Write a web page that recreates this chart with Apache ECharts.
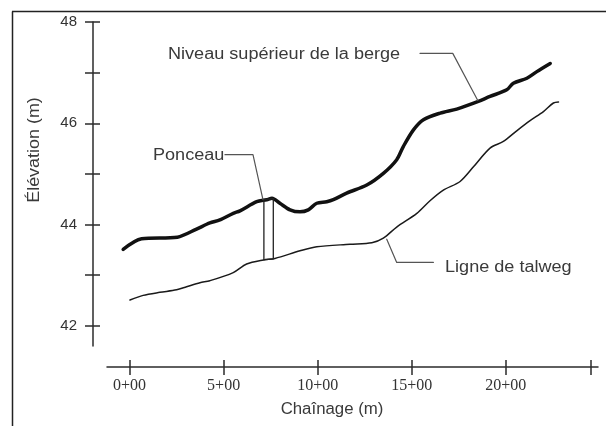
<!DOCTYPE html>
<html>
<head>
<meta charset="utf-8">
<script src="https://cdn.jsdelivr.net/npm/echarts@6/dist/echarts.min.js"></script>
<style>
  html, body { margin: 0; padding: 0; background: #fff; }
  #chart { width: 606px; height: 426px; }
</style>
</head>
<body>
<div id="chart"></div>
<script>
// chainage (x 100 m) and elevation (m)
const bergeX = [-0.34, 0.64, 2.54, 3.56, 4.27, 4.80, 5.51, 5.87, 6.76, 7.29, 7.57, 7.99, 8.53, 9.06, 9.50, 9.95, 10.48, 10.83, 11.54, 12.61, 13.49, 14.20, 14.55, 15.09, 15.62, 16.51, 17.39, 18.54, 19.16, 20.05, 20.40, 21.12, 21.65, 22.36];
const bergeY = [43.51, 43.72, 43.75, 43.91, 44.03, 44.09, 44.22, 44.27, 44.45, 44.49, 44.52, 44.42, 44.29, 44.25, 44.29, 44.42, 44.45, 44.49, 44.62, 44.78, 45.01, 45.28, 45.54, 45.87, 46.07, 46.20, 46.28, 46.43, 46.53, 46.66, 46.79, 46.89, 47.02, 47.18];

const talwegX = [0.02, 0.72, 1.61, 2.50, 3.03, 3.74, 4.27, 5.51, 6.22, 7.11, 7.73, 9.06, 9.95, 11.72, 12.88, 13.49, 14.20, 15.27, 15.97, 16.68, 17.57, 18.28, 19.16, 19.87, 20.58, 21.29, 22.00, 22.53, 22.80];
const talwegY = [42.51, 42.60, 42.66, 42.71, 42.77, 42.85, 42.89, 43.05, 43.22, 43.30, 43.33, 43.48, 43.56, 43.61, 43.64, 43.73, 43.95, 44.22, 44.47, 44.68, 44.85, 45.14, 45.51, 45.64, 45.85, 46.05, 46.23, 46.40, 46.42];

// culvert outline
const ponceauX = [7.14, 7.14, 7.64, 7.64, 7.14];
const ponceauY = [43.30, 44.49, 44.51, 43.32, 43.30];

// leader lines for the callouts
const leadPonceauX = [5.07, 6.56, 7.09];
const leadPonceauY = [45.38, 45.38, 44.49];
const leadBergeX = [15.44, 17.18, 18.51];
const leadBergeY = [47.38, 47.38, 46.45];
const leadTalwegX = [13.67, 14.20, 16.15];
const leadTalwegY = [43.71, 43.25, 43.25];

const yTicks = [42, 43, 44, 45, 46, 47, 48];
const yLabels = [42, 44, 46, 48];
const xTicks = [0, 5, 10, 15, 20, 24.5];
const xLabels = [0, 5, 10, 15, 20];

const zip = (xs, ys) => xs.map((x, i) => [x, ys[i]]);

const axisColor = '#2b2b2b';
const textColor = '#3a3a3a';

const lineSeries = (name, xs, ys, width, color, smooth) => ({
  name: name,
  type: 'line',
  data: zip(xs, ys),
  symbol: 'none',
  smooth: smooth,
  silent: true,
  animation: false,
  lineStyle: { color: color, width: width, cap: 'round', join: 'round' }
});

// the ticks cross the axis line: a second, line-less axis draws the other half
const xAxisBase = {
  type: 'value', min: -1.2, max: 24.9, position: 'bottom',
  splitLine: { show: false }
};
const yAxisBase = {
  type: 'value', min: 41.6, max: 48, position: 'left',
  splitLine: { show: false }
};

const myChart = echarts.init(document.getElementById('chart'));

const option = {
  animation: false,
  grid: { left: 107, right: 8, top: 22, bottom: 80, outerBoundsMode: 'none' },
  xAxis: [
    Object.assign({}, xAxisBase, {
      offset: 21,
      axisLine: { show: true, onZero: false, lineStyle: { color: axisColor, width: 1.5 } },
      axisTick: { show: true, customValues: xTicks, length: 8, lineStyle: { color: axisColor, width: 1.5 } },
      axisLabel: {
        customValues: xLabels, margin: 11, color: '#333',
        fontFamily: 'Liberation Serif', fontSize: 16,
        formatter: v => v + '+00'
      }
    }),
    Object.assign({}, xAxisBase, {
      offset: 14,
      axisLine: { show: false, onZero: false },
      axisTick: { show: true, customValues: xTicks, length: 7, lineStyle: { color: axisColor, width: 1.5 } },
      axisLabel: { show: false }
    })
  ],
  yAxis: [
    Object.assign({}, yAxisBase, {
      offset: 14,
      axisLine: { show: true, onZero: false, lineStyle: { color: axisColor, width: 1.5 } },
      axisTick: { show: true, customValues: yTicks, length: 8, lineStyle: { color: axisColor, width: 1.5 } },
      axisLabel: {
        customValues: yLabels, margin: 16, color: '#333',
        fontFamily: 'Liberation Sans', fontSize: 15
      }
    }),
    Object.assign({}, yAxisBase, {
      offset: 7,
      axisLine: { show: false, onZero: false },
      axisTick: { show: true, customValues: yTicks, length: 7, lineStyle: { color: axisColor, width: 1.5 } },
      axisLabel: { show: false }
    })
  ],
  series: [
    lineSeries('Niveau supérieur de la berge', bergeX, bergeY, 3.5, '#111', 0.3),
    lineSeries('Ligne de talweg', talwegX, talwegY, 1.5, '#1a1a1a', 0.3),
    lineSeries('Ponceau', ponceauX, ponceauY, 1.3, '#222', false),
    lineSeries('lead-ponceau', leadPonceauX, leadPonceauY, 1.2, '#555', false),
    lineSeries('lead-berge', leadBergeX, leadBergeY, 1.2, '#555', false),
    lineSeries('lead-talweg', leadTalwegX, leadTalwegY, 1.2, '#555', false)
  ],
  graphic: [
    // partial frame around the figure
    { type: 'line', shape: { x1: 12.5, y1: 11.5, x2: 12.5, y2: 426 }, style: { stroke: '#222', lineWidth: 1.5 } },
    { type: 'line', shape: { x1: 12, y1: 11.5, x2: 606, y2: 11.5 }, style: { stroke: '#222', lineWidth: 1.5 } },
    {
      type: 'text', x: 35, y: 150, rotation: Math.PI / 2, scaleX: 1.12,
      style: { text: 'Élévation (m)', fill: textColor, font: '16px "Liberation Sans"', textAlign: 'center', textVerticalAlign: 'middle' }
    },
    {
      type: 'text', x: 332, y: 410, scaleX: 1.05,
      style: { text: 'Chaînage (m)', fill: textColor, font: '16px "Liberation Sans"', textAlign: 'center', textVerticalAlign: 'middle' }
    },
    {
      type: 'text', x: 168, y: 55, scaleX: 1.13,
      style: { text: 'Niveau supérieur de la berge', fill: textColor, font: '16px "Liberation Sans"', textAlign: 'left', textVerticalAlign: 'middle' }
    },
    {
      type: 'text', x: 153, y: 156, scaleX: 1.13,
      style: { text: 'Ponceau', fill: textColor, font: '16px "Liberation Sans"', textAlign: 'left', textVerticalAlign: 'middle' }
    },
    {
      type: 'text', x: 445, y: 268, scaleX: 1.13,
      style: { text: 'Ligne de talweg', fill: textColor, font: '16px "Liberation Sans"', textAlign: 'left', textVerticalAlign: 'middle' }
    }
  ]
};

myChart.setOption(option);
</script>
</body>
</html>
